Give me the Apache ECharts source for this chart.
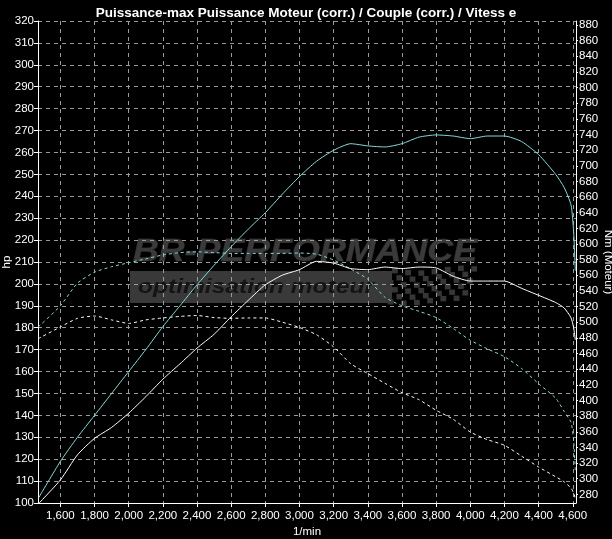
<!DOCTYPE html>
<html><head><meta charset="utf-8">
<script src="https://cdn.jsdelivr.net/npm/echarts@6/dist/echarts.min.js"></script>
<style>html,body{margin:0;padding:0;background:#000;}#c{width:612px;height:539px;}</style>
</head><body><div id="c"></div>
<script>
// ---- data ----
const rpm = [1470,1600,1700,1800,1900,2000,2100,2200,2300,2400,2500,2600,2700,2800,2900,3000,3100,3200,3300,3400,3500,3600,3700,3800,3900,4000,4100,4200,4300,4400,4500,4550,4590,4605,4615];
const powerCorr = [102,119,130,140,150,160,170,180.5,190,199.6,208.5,217,225,232.5,241,249,256,261,264,263,262.5,264,267,268,267.5,266.3,267.5,267.5,265,259,250,244,236,224,206];
const powerMax = [99.5,110.5,122,129.5,134.5,141,148.5,156.5,163.5,170.7,177,185,192.5,199.6,204,206.5,210.3,209.5,207,206.5,207.7,207,207.7,207.3,203.5,201.3,201.3,201.3,198,194.8,191.5,189,184.5,180,174.5];
const torqueCorr = [494,521,550,564,571,576,581,586,589,590,589,588,588,588,588,588.5,587,579.5,568,555,532,521,514,506,492,477,466,456,441,421.5,403,386,372,349,311];
const torqueMax = [479,494,505,508,503,498.5,503,505.5,507.5,508.6,506,505,505.5,505.5,500,493.3,484,468.5,447,434.4,422,410,401,387.5,376,359.7,350,342.7,329,315,302.5,296,288,282,274.5];
const rpmTicks = [1600,1800,2000,2200,2400,2600,2800,3000,3200,3400,3600,3800,4000,4200,4400,4600];
const hpTicks = {min:100, max:320, step:10};
const nmTicks = [280,300,320,340,360,380,400,420,440,460,480,500,520,540,560,580,600,620,640,660,680,700,720,740,760,780,800,820,840,860,880];
const titleText = 'Puissance-max Puissance Moteur (corr.) / Couple (corr.) / Vitess e';

// ---- style ----
const FONT = "'Liberation Sans',Arial,sans-serif";
const FS = 11.5;
const CYAN = '#86dcdc';
const GRIDC = '#9a9a9a';

function fmt(v){ return String(v).replace(/\B(?=(\d{3})+(?!\d))/g, ','); }
function measure(txt, font){ const c=document.createElement('canvas').getContext('2d'); c.font=font; return c.measureText(txt).width; }

const wm1Font = 'italic bold 32px "Liberation Sans", Arial, sans-serif';
const wm2Font = 'italic bold 20px "Liberation Sans", Arial, sans-serif';
const wm1Scale = 344 / measure('BR-PERFORMANCE', wm1Font);
const wm2Scale = 236 / measure('optimisation moteur', wm2Font);

const flag = [];
for (let r=0;r<6;r++){
  for (let c=0;c<13;c++){
    if ((r+c)%2) continue;
    const x = 392 + c*6.6 - r*2.2;
    const y = 268 + r*6 + Math.sin(c/2.2)*2.5;
    flag.push({type:'rect', shape:{x:x,y:y,width:5.8,height:5.4}, style:{fill:'#363636'}, silent:true, z:-5});
  }
}

const chart = echarts.init(document.getElementById('c'), null, {renderer:'canvas'});
const mk = (arr, ys) => rpm.map((r,i)=>[r, ys[i]]);
chart.setOption({
  backgroundColor:'#000',
  animation:false,
  title:{text:titleText, left:'center', top:1, textStyle:{color:'#fff', fontSize:13.5, fontWeight:'bold', fontFamily:"'Liberation Sans',Arial,sans-serif"}},
  grid:{left:38, right:36, top:21, bottom:36, containLabel:false, outerBoundsMode:'none'},
  graphic:[
    {type:'rect', shape:{x:130,y:271,width:262,height:32}, style:{fill:'#393939'}, silent:true, z:-6},
    {type:'text', x:133, y:236, scaleX:wm1Scale, style:{text:'BR-PERFORMANCE', font:wm1Font, fill:'#3a3a3a', stroke:'#262626', lineWidth:0.8}, silent:true, z:-5},
    {type:'text', x:138, y:277, scaleX:wm2Scale, style:{text:'optimisation moteur', font:wm2Font, fill:'#141414'}, silent:true, z:-5}
  ].concat(flag),
  xAxis:[{
    type:'value', min:1469, max:4619, position:'bottom',
    name:'1/min', nameLocation:'middle', nameGap:23, nameMoveOverlap:false,
    nameTextStyle:{color:'#fff', fontSize:FS, fontFamily:FONT},
    axisLine:{show:true, lineStyle:{color:'#fff', width:1}},
    axisTick:{show:true, customValues:rpmTicks, length:4, lineStyle:{color:'#fff'}},
    axisLabel:{customValues:rpmTicks, color:'#fff', fontSize:FS, fontFamily:FONT, margin:7, formatter:fmt},
    splitLine:{show:true, lineStyle:{color:GRIDC, type:[4,4], width:1}}
  }],
  yAxis:[{
    type:'value', min:hpTicks.min, max:hpTicks.max, interval:hpTicks.step, position:'left',
    name:'hp', nameLocation:'middle', nameGap:25, nameRotate:90, nameMoveOverlap:false,
    nameTextStyle:{color:'#fff', fontSize:FS, fontFamily:FONT},
    axisLine:{show:true, lineStyle:{color:'#fff', width:1}},
    axisTick:{show:true, length:4, lineStyle:{color:'#fff'}},
    axisLabel:{color:'#fff', fontSize:FS, fontFamily:FONT, margin:4},
    splitLine:{show:true, lineStyle:{color:GRIDC, type:[4,4], width:1}}
  },{
    type:'value', min:269, max:885, position:'right',
    name:'Nm (Moteur)', nameLocation:'middle', nameGap:26, nameRotate:-90, nameMoveOverlap:false,
    nameTextStyle:{color:'#fff', fontSize:FS, fontFamily:FONT},
    axisLine:{show:true, lineStyle:{color:'#fff', width:1}},
    axisTick:{show:true, customValues:nmTicks, length:2, lineStyle:{color:'#fff'}},
    axisLabel:{customValues:nmTicks, color:'#fff', fontSize:FS, fontFamily:FONT, margin:3},
    splitLine:{show:false}
  }],
  series:[
    {type:'line', yAxisIndex:1, data:mk(rpm, torqueMax), showSymbol:false, smooth:0.2, lineStyle:{color:'#fff', width:1, type:[3,3]}, z:3},
    {type:'line', yAxisIndex:1, data:mk(rpm, torqueCorr), showSymbol:false, smooth:0.2, lineStyle:{color:CYAN, width:1, type:[3,3]}, z:3},
    {type:'line', yAxisIndex:0, data:mk(rpm, powerMax), showSymbol:false, smooth:0.2, lineStyle:{color:'#fff', width:1}, z:4},
    {type:'line', yAxisIndex:0, data:mk(rpm, powerCorr), showSymbol:false, smooth:0.2, lineStyle:{color:CYAN, width:1}, z:4}
  ]
});
</script></body></html>
